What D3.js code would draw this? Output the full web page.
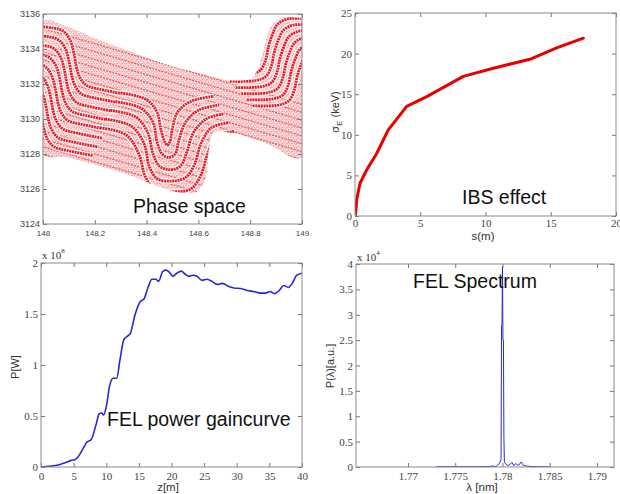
<!DOCTYPE html>
<html>
<head>
<meta charset="utf-8">
<title>FEL simulation panels</title>
<script src="https://cdnjs.cloudflare.com/ajax/libs/d3/7.8.5/d3.min.js"></script>
<style>
  body { margin: 0; background: #fff; }
</style>
</head>
<body>
<script>
var w = 620, h = 494;
var sans = "'Liberation Sans', Arial, sans-serif";
var serif = "'Liberation Serif', 'Times New Roman', serif";

// ---------- data ----------
// phase space (top left)
var psTicksX = [148, 148.2, 148.4, 148.6, 148.8, 149];
var psTicksY = [3124, 3126, 3128, 3130, 3132, 3134, 3136];
var bandTop = [[148.0,3135.6],[148.09,3135.3],[148.22,3134.5],[148.35,3133.8],[148.48,3133.1],[148.61,3132.6],[148.73,3132.2],[148.81,3132.4],[148.85,3133.9],[148.88,3135.3],[148.92,3135.8],[148.97,3135.8],[149.0,3135.7]];
var bandBottom = [[149.0,3127.8],[148.86,3128.6],[148.73,3129.2],[148.66,3129.2],[148.64,3128.2],[148.63,3126.7],[148.59,3125.8],[148.53,3125.8],[148.45,3126.1],[148.35,3126.7],[148.22,3127.3],[148.09,3127.8],[148.0,3128.0]];
// left crest stripes: one shape, shifted per stripe
var leftS = [[147.97,3135.3],[148.04,3135.2],[148.08,3135.0],[148.105,3134.5],[148.12,3133.7],[148.13,3132.9],[148.145,3132.3],[148.17,3131.9],[148.22,3131.7],[148.32,3131.4]];
var leftShift = [[0,0],[-0.018,-0.5],[-0.036,-1.0],[-0.054,-1.5],[-0.072,-2.0],[-0.09,-2.5],[-0.108,-3.0],[-0.126,-3.5]];
// middle trough stripes, each read separately (inner to outer)
var midStripes = [
  [[148.30,3131.5],[148.40,3131.1],[148.44,3130.4],[148.455,3129.4],[148.47,3128.7],[148.48,3128.5],[148.49,3128.7],[148.50,3129.5],[148.52,3130.4],[148.57,3131.0],[148.66,3131.3]],
  [[148.28,3131.0],[148.38,3130.6],[148.425,3129.8],[148.44,3128.7],[148.46,3128.0],[148.485,3127.8],[148.51,3128.0],[148.525,3128.8],[148.55,3129.8],[148.60,3130.5],[148.68,3130.8]],
  [[148.26,3130.5],[148.36,3130.1],[148.405,3129.2],[148.425,3128.0],[148.45,3127.3],[148.49,3127.1],[148.53,3127.3],[148.555,3128.1],[148.58,3129.2],[148.63,3130.0],[148.70,3130.3]],
  [[148.24,3130.0],[148.34,3129.6],[148.39,3128.6],[148.41,3127.3],[148.44,3126.6],[148.495,3126.45],[148.55,3126.65],[148.585,3127.4],[148.61,3128.6],[148.65,3129.5],[148.72,3129.8]],
  [[148.22,3129.5],[148.32,3129.1],[148.37,3128.0],[148.395,3126.7],[148.43,3126.0],[148.50,3125.85],[148.57,3126.0],[148.61,3126.8],[148.635,3128.0],[148.67,3129.0],[148.74,3129.3]]
];
// right crest stripes: one shape, shifted per stripe
var rightS = [[148.7,3132.5],[148.8,3132.55],[148.84,3132.8],[148.86,3133.4],[148.87,3134.1],[148.885,3134.8],[148.905,3135.4],[148.94,3135.7],[148.98,3135.75],[149.05,3135.75]];
var rightShift = [[0,0],[0.022,-0.35],[0.044,-0.7],[0.066,-1.05],[0.088,-1.4],[0.11,-1.75]];
// fine filaments through the band
var streak = [[147.9,3135.6],[148.5,3133.0],[149.1,3130.4]];
var streakShift = [0,-0.45,-0.9,-1.35,-1.8,-2.25,-2.7,-3.15,-3.6,-4.05,-4.5,-4.95,-5.4,-5.85,-6.3,-6.75,-7.2,-7.65,-8.1,-8.55,-9.0,-9.45,-9.9];

// IBS effect (top right)
var ibsS = [0,0.05,0.13,0.38,0.9,1.66,2.55,3.96,5.5,8.3,10.6,13.4,15.45,17.5];
var ibsSigma = [0,0.3,2.0,4.0,5.7,7.7,10.6,13.5,14.7,17.2,18.2,19.3,20.7,21.9];
var ibsTicksX = [0,5,10,15,20];
var ibsTicksY = [0,5,10,15,20,25];

// gain curve (bottom left), P in units of 1e8 W
var gainZ = [0,1.3,2.8,3.9,4.6,5.2,5.7,6.4,7.0,7.7,8.5,8.9,9.3,9.6,10.0,10.5,11.05,11.6,12.1,12.7,13.4,13.7,14.4,15.2,15.8,16.45,17.0,17.6,18.0,18.7,19.2,19.8,20.2,20.8,21.5,22.1,22.6,23.3,23.9,24.7,25.4,26.2,27.0,27.8,28.8,29.6,30.6,31.6,32.6,33.7,34.4,35.1,35.8,36.5,37.2,37.9,38.5,39.2,40];
var gainP = [0,0.007,0.023,0.046,0.065,0.072,0.10,0.176,0.24,0.27,0.43,0.52,0.53,0.51,0.59,0.79,0.87,0.87,1.05,1.25,1.29,1.31,1.49,1.62,1.65,1.77,1.84,1.84,1.82,1.92,1.93,1.90,1.87,1.90,1.92,1.89,1.87,1.88,1.87,1.83,1.84,1.82,1.79,1.80,1.77,1.755,1.75,1.73,1.72,1.705,1.705,1.72,1.70,1.73,1.78,1.76,1.80,1.88,1.90];
var gainTicksX = [0,5,10,15,20,25,30,35,40];
var gainTicksY = [0,0.5,1,1.5,2];

// spectrum (bottom right), P in units of 1e4
var specLambda = [1.7730,1.7750,1.7770,1.7785,1.7790,1.7793,1.7795,1.7797,1.77985,1.7799,1.77995,1.7800,1.78005,1.7801,1.78015,1.7802,1.7804,1.7806,1.7808,1.7810,1.7812,1.7814,1.7815,1.7817,1.7819,1.7820,1.7822,1.7825,1.7830,1.7840,1.7850];
var specPower = [0.005,0.006,0.005,0.008,0.02,0.01,0.04,0.08,0.15,2.78,2.78,3.95,2.5,2.5,0.6,0.1,0.05,0.03,0.05,0.09,0.03,0.07,0.05,0.03,0.08,0.1,0.03,0.02,0.01,0.005,0.004];
var specTicksX = [1.77,1.775,1.78,1.785,1.79];
var specTicksY = [0,0.5,1,1.5,2,2.5,3,3.5,4];

// ---------- svg ----------
var svg = d3.select("body").append("svg")
  .attr("width", w).attr("height", h)
  .style("background", "#fff");
var defs = svg.append("defs");

function frame(x, y, xt, yt, fx, fy, font, sizeX, sizeY, padX) {
  var g = svg.append("g");
  var xr = x.range(), yr = y.range();
  g.append("g").attr("transform", "translate(0," + yr[0] + ")")
    .call(d3.axisBottom(x).tickValues(xt).tickSize(-4).tickPadding(padX).tickFormat(fx))
    .selectAll("text").attr("font-size", sizeX);
  g.append("g").attr("transform", "translate(0," + yr[1] + ")")
    .call(d3.axisTop(x).tickValues(xt).tickSize(-4).tickFormat(""));
  g.append("g").attr("transform", "translate(" + xr[0] + ",0)")
    .call(d3.axisLeft(y).tickValues(yt).tickSize(-4).tickPadding(3).tickFormat(fy))
    .selectAll("text").attr("font-size", sizeY);
  g.append("g").attr("transform", "translate(" + xr[1] + ",0)")
    .call(d3.axisRight(y).tickValues(yt).tickSize(-4).tickFormat(""));
  g.selectAll(".domain").remove();
  g.selectAll(".tick line").attr("stroke", "#777");
  g.selectAll(".tick text").attr("font-family", font).attr("fill", "#444");
  g.append("rect")
    .attr("x", xr[0]).attr("y", yr[1])
    .attr("width", xr[1] - xr[0]).attr("height", yr[0] - yr[1])
    .attr("fill", "none").attr("stroke", "#8a8a8a").attr("stroke-width", 1);
  return g;
}

function bigLabel(txt, x, y) {
  svg.append("text").text(txt).attr("x", x).attr("y", y)
    .attr("font-family", sans).attr("font-size", 19.5).attr("fill", "#111");
}

function expLabel(x, y, p) {
  var t = svg.append("text").attr("x", x).attr("y", y)
    .attr("font-family", serif).attr("font-size", 11).attr("fill", "#333");
  t.append("tspan").text("x 10");
  t.append("tspan").text(p).attr("font-size", 7).attr("dy", -6);
}

function clip(id, x, y) {
  defs.append("clipPath").attr("id", id).append("rect")
    .attr("x", x.range()[0]).attr("y", y.range()[1])
    .attr("width", x.range()[1] - x.range()[0])
    .attr("height", y.range()[0] - y.range()[1]);
}

// ---------- panel 1: phase space ----------
var x1 = d3.scaleLinear().domain([148, 149]).range([43, 302]);
var y1 = d3.scaleLinear().domain([3124, 3136]).range([224, 14]);
clip("c1", x1, y1);

var pat = defs.append("pattern").attr("id", "dots")
  .attr("width", 5).attr("height", 4).attr("patternUnits", "userSpaceOnUse");
[[0.5,0.5],[3,1.5],[1.5,3],[4,3.5]].forEach(function (p) {
  pat.append("rect").attr("x", p[0]).attr("y", p[1]).attr("width", 0.9).attr("height", 0.9)
    .attr("fill", "#e0141e").attr("opacity", 0.6);
});

var bandPts = bandTop.concat(bandBottom);
var bandLine = d3.line().x(function (d) { return x1(d[0]); }).y(function (d) { return y1(d[1]); })
  .curve(d3.curveCatmullRomClosed.alpha(0.5));
defs.append("clipPath").attr("id", "band").append("path").attr("d", bandLine(bandPts));

var ps = svg.append("g").attr("clip-path", "url(#c1)");
var inBand = ps.append("g").attr("clip-path", "url(#band)");
inBand.append("path").attr("d", bandLine(bandPts)).attr("fill", "#fadcdc");
inBand.append("path").attr("d", bandLine(bandPts)).attr("fill", "url(#dots)");

var sLine = d3.line().x(function (d) { return x1(d[0]); }).y(function (d) { return y1(d[1]); })
  .curve(d3.curveCatmullRom.alpha(0.5));

inBand.selectAll(".streak").data(streakShift).enter().append("path")
  .attr("d", function (dy) { return sLine(streak.map(function (p) { return [p[0], p[1] + dy]; })); })
  .attr("fill", "none").attr("stroke", "#e0141e").attr("stroke-width", 1.2)
  .attr("stroke-dasharray", "2 1.2").attr("opacity", 0.65);

function drawStripes(paths) {
  inBand.append("g").selectAll("path").data(paths).enter().append("path")
    .attr("d", sLine)
    .attr("fill", "none").attr("stroke", "#fff").attr("stroke-width", 5.5).attr("opacity", 0.75);
  inBand.append("g").selectAll("path").data(paths).enter().append("path")
    .attr("d", sLine)
    .attr("fill", "none").attr("stroke", "#e3000e").attr("stroke-width", 2.8)
    .attr("stroke-dasharray", "2 0.7").attr("opacity", 0.9);
}
function shifted(tpl, shifts) {
  return shifts.map(function (s) { return tpl.map(function (p) { return [p[0] + s[0], p[1] + s[1]]; }); });
}
drawStripes(shifted(leftS, leftShift));
drawStripes(midStripes);
drawStripes(shifted(rightS, rightShift));

frame(x1, y1, psTicksX, psTicksY, d3.format(""), d3.format("d"), sans, 8, 9, 6);
bigLabel("Phase space", 133, 213);

// ---------- panel 2: IBS ----------
var x2 = d3.scaleLinear().domain([0, 20]).range([355, 616]);
var y2 = d3.scaleLinear().domain([0, 25]).range([216, 13]);
clip("c2", x2, y2);
svg.append("path").attr("clip-path", "url(#c2)")
  .datum(d3.range(ibsS.length))
  .attr("d", d3.line().x(function (i) { return x2(ibsS[i]); }).y(function (i) { return y2(ibsSigma[i]); }))
  .attr("fill", "none").attr("stroke", "#e60000").attr("stroke-width", 3)
  .attr("stroke-linecap", "round").attr("stroke-linejoin", "round");
frame(x2, y2, ibsTicksX, ibsTicksY, d3.format("d"), d3.format("d"), serif, 11, 11, 3);
var yl2 = svg.append("text").attr("transform", "translate(339,112) rotate(-90)")
  .attr("text-anchor", "middle").attr("font-family", sans).attr("font-size", 11).attr("fill", "#333");
yl2.append("tspan").text("\u03c3");
yl2.append("tspan").text("E").attr("font-size", 8).attr("dy", 3);
yl2.append("tspan").text(" (keV)").attr("dy", -3);
svg.append("text").text("s(m)").attr("x", 483).attr("y", 240).attr("text-anchor", "middle")
  .attr("font-family", sans).attr("font-size", 11.5).attr("fill", "#333");
bigLabel("IBS effect", 462, 204);

// ---------- panel 3: gain curve ----------
var x3 = d3.scaleLinear().domain([0, 40]).range([41, 302]);
var y3 = d3.scaleLinear().domain([0, 2]).range([467, 263]);
clip("c3", x3, y3);
svg.append("path").attr("clip-path", "url(#c3)")
  .datum(d3.range(gainZ.length))
  .attr("d", d3.line().x(function (i) { return x3(gainZ[i]); }).y(function (i) { return y3(gainP[i]); }).curve(d3.curveMonotoneX))
  .attr("fill", "none").attr("stroke", "#2828d2").attr("stroke-width", 1.6);
frame(x3, y3, gainTicksX, gainTicksY, d3.format("d"), function (d) { return d; }, serif, 11, 11, 5);
expLabel(42, 259, "8");
svg.append("text").attr("transform", "translate(19,367) rotate(-90)").text("P[W]")
  .attr("text-anchor", "middle").attr("font-family", sans).attr("font-size", 11).attr("fill", "#333");
svg.append("text").text("z[m]").attr("x", 168).attr("y", 491).attr("text-anchor", "middle")
  .attr("font-family", sans).attr("font-size", 11.5).attr("fill", "#333");
bigLabel("FEL power gaincurve", 107, 426);

// ---------- panel 4: spectrum ----------
var x4 = d3.scaleLinear().domain([1.7645, 1.7918]).range([356, 614]);
var y4 = d3.scaleLinear().domain([0, 4]).range([467, 264]);
clip("c4", x4, y4);
svg.append("path").attr("clip-path", "url(#c4)")
  .datum(d3.range(specLambda.length))
  .attr("d", d3.line().x(function (i) { return x4(specLambda[i]); }).y(function (i) { return y4(specPower[i]); }))
  .attr("fill", "none").attr("stroke", "#2a2ad0").attr("stroke-width", 1);
frame(x4, y4, specTicksX, specTicksY, function (d) { return d; }, function (d) { return d; }, serif, 11, 11, 5);
expLabel(357, 261, "4");
svg.append("text").attr("transform", "translate(334,366) rotate(-90)").text("P(\u03bb)[a.u.]")
  .attr("text-anchor", "middle").attr("font-family", sans).attr("font-size", 11).attr("fill", "#333");
svg.append("text").text("\u03bb [nm]").attr("x", 482).attr("y", 491).attr("text-anchor", "middle")
  .attr("font-family", sans).attr("font-size", 11.5).attr("fill", "#333");
bigLabel("FEL Spectrum", 413, 288);
</script>
</body>
</html>
